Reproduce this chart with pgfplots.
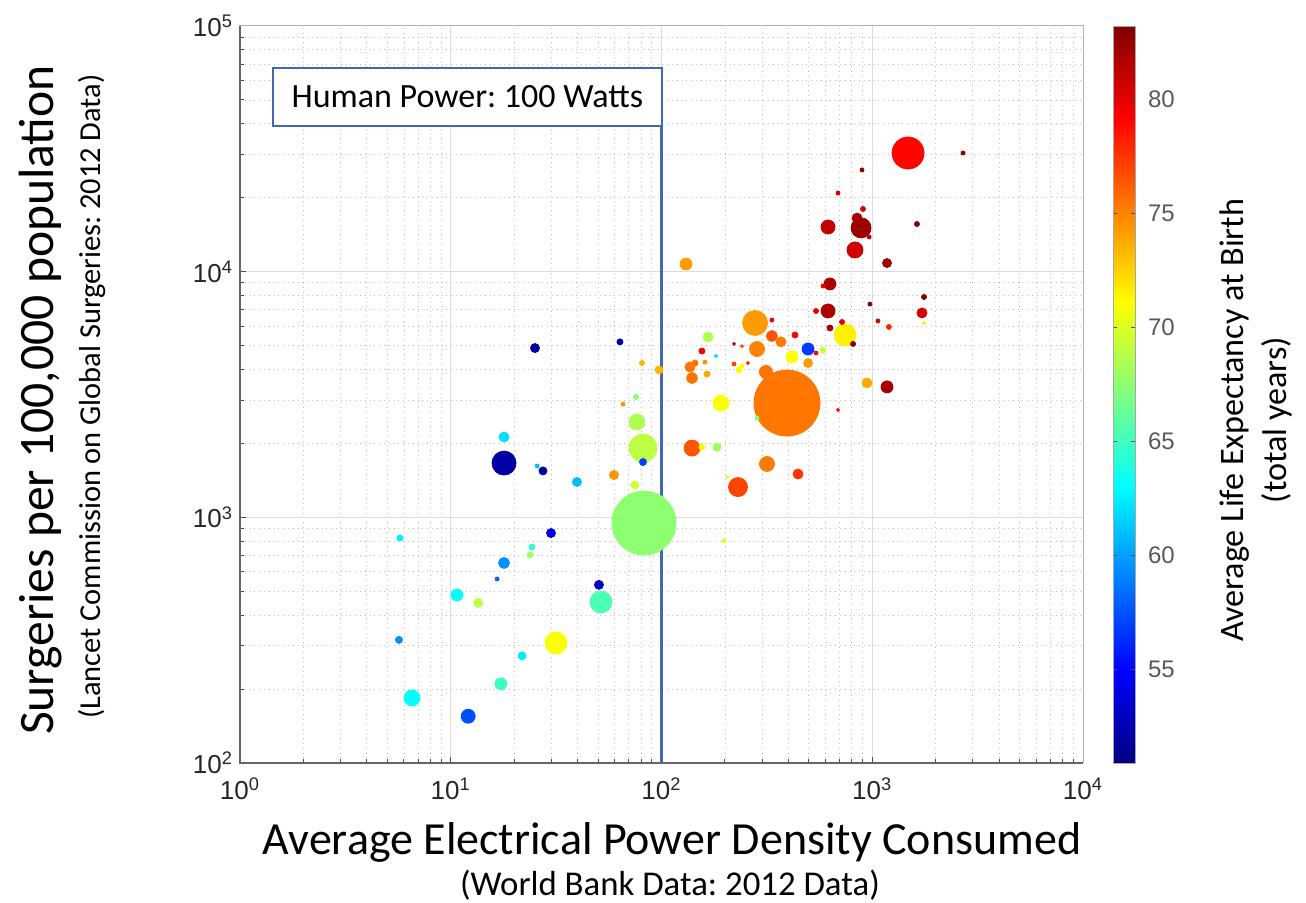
\documentclass[border=0pt]{standalone}
\usepackage{pgfplots}
\pgfplotsset{compat=1.18}
\usepackage{fontspec}
\setmainfont{Carlito}
\newfontfamily\helv{Liberation Sans}
\definecolor{hpblue}{RGB}{65,105,175}
\definecolor{tickgray}{RGB}{38,38,38}
\pgfplotsset{colorbar shift/.style={xshift=15pt}}
\frenchspacing
\begin{document}
\begin{tikzpicture}
\begin{axis}[
  name=ax,
  scale only axis,
  clip=false,
  width=421.5pt, height=368.5pt,
  xmode=log, ymode=log,
  xmin=1, xmax=10000, ymin=100, ymax=100000,
  xtick={1,10,100,1000,10000},
  xticklabels={10\textsuperscript{0},10\textsuperscript{1},10\textsuperscript{2},10\textsuperscript{3},10\textsuperscript{4}},
  ytick={100,1000,10000,100000},
  yticklabels={10\textsuperscript{2},10\textsuperscript{3},10\textsuperscript{4},10\textsuperscript{5}},
  minor xtick={2,3,4,5,6,7,8,9,20,30,40,50,60,70,80,90,200,300,400,500,600,700,800,900,2000,3000,4000,5000,6000,7000,8000,9000},
  minor ytick={200,300,400,500,600,700,800,900,2000,3000,4000,5000,6000,7000,8000,9000,20000,30000,40000,50000,60000,70000,80000,90000},
  tick label style={font=\helv\fontsize{13}{15}\selectfont, text=tickgray},
  xticklabel style={yshift=-4pt},
  grid=both,
  major grid style={draw=black!14, line width=0.5pt},
  minor grid style={draw=black!25, dotted, line width=0.4pt},
  axis line style={draw=black!30, line width=0.5pt},
  tick style={draw=black!70, line width=0.5pt},
  major tick length=3pt, minor tick length=2pt,
  tick pos=left,
  tick align=inside,
  colormap/jet,
  point meta min=50.9, point meta max=83.2,
  colorbar,
  colorbar style={
    at={(parent axis.north east)}, anchor=north west,
    width=11pt,
    ytick={55,60,65,70,75,80},
    yticklabels={55,60,65,70,75,80},
    yticklabel style={font=\helv\fontsize{12}{14}\selectfont, text=black!65, xshift=3pt},
    major tick length=2pt,
    axis line style={draw=black!35},
  },
]
\addplot[scatter, only marks, mark=*, point meta=explicit,
  scatter/use mapped color={draw=mapped color, fill=mapped color},
  visualization depends on={\thisrow{r} \as \rr},
  scatter/@pre marker code/.append style={/tikz/mark size=\rr/2}]
  table[x=x, y=y, meta=c] {
x y c r
394 2918 75.4 33
82.6 948 67.5 32
1479 30410 79 16
81.7 1914 69 14
278 6180 74.3 12.5
17.9 1663 52 12
51.6 452 65.4 11
31.6 308 71 11
743 5521 71.5 11
885 15070 82.3 10
230.7 1328 77 9.5
76.5 2443 68.5 8
6.55 184 63 8
828 12250 80.7 8
191.5 2918 71 8
139.6 1914 76.5 8
284 4843 75 7.5
316.7 1649 75.3 7.5
617 15200 81 7
617 6918 81.8 7
12.1 155 57.4 7
313 3908 75.5 6.5
130.7 10740 74.2 6
10.7 483 63 6
17.3 210 65 6
630 8914 81.8 6
496 4843 56.8 6
1175 3396 82 6
416 4498 71 6
17.9 652 59.5 5.5
334 5470 76.5 5.5
139.6 3690 75.5 5.5
17.9 2123 62 5
847 16520 82 5
1722 6792 80.5 5
369 5177 75.3 5
166.2 5420 68.5 5
136.5 4093 75.5 5
944 3524 73.8 5
444.5 1500 77.5 5
25.1 4887 52 4.5
39.7 1393 61 4.5
59.5 1486 74.5 4.5
29.9 863 54 4.5
50.5 531 53 4.5
13.5 448 69 4.5
1175 10840 82 4.5
496 4246 74.3 4.5
97.3 3981 73.5 4
27.4 1545 51.5 4
74.8 1355 69.5 4
21.8 273 62.5 4
183.3 1931 68 4
81.7 1679 57 3.5
5.68 317 59.5 3.5
63.5 5177 52 3
5.74 824 62.5 3
24.3 757 64.5 3
23.8 703 68 3
630 5900 82 3
430 5521 79 3
584 4798 69.5 3
155.6 4753 79.5 3
144.2 4246 75.5 3
164.4 3829 73.8 3
233.2 3981 71 3
155.6 1931 71 3
80.8 4246 73.5 2.5
75.7 3090 67.5 2.5
904 17990 80.5 2.5
1630 15630 83 2.5
1761 7889 83 2.5
541 6918 80 2.5
719 6240 80 2.5
1200 5957 78 2.5
811 5080 83 2.5
65.7 2891 74.5 2
25.7 1618 61 2
16.6 561 58 2
2697 30410 83 2
894 25940 83 2
688 20890 80.5 2
966 13840 81 2
584 8746 80 2
975 7380 83 2
1064 6300 80.5 2
334 6350 79.5 2
541 4665 79 2
160.8 4285 74.5 2
220.8 4206 77 2
241 4130 71 2
198 802 70 2
284 2535 67 2
1761 6180 71.5 1.5
181.4 4537 62 1.5
220.8 5080 81 1.5
241 4977 77 1.5
257 4246 78 1.5
688 2736 79 1.5
204.6 1459 70 1.5
};
\draw[black!60, line width=0.6pt] (rel axis cs:0,1) -- (rel axis cs:0,0) -- (rel axis cs:1,0);
\draw[hpblue, line width=1.5pt] (axis cs:100,67430) -- (axis cs:100,100);
\draw[hpblue, line width=1pt, fill=white] (axis cs:1.434,39170) rectangle (axis cs:100,67430);
\node[font=\fontsize{17}{20}\selectfont] at (axis cs:12,51400) {Human Power: 100 Watts};
\node[rotate=90, font=\fontsize{24.8}{28}\selectfont] at (axis description cs:-0.237,0.4925) {Surgeries per 100,000 population};
\node[rotate=90, font=\fontsize{15.2}{18}\selectfont] at (axis description cs:-0.176,0.497) {(Lancet Commission on Global Surgeries: 2012 Data)};
\node[font=\fontsize{23}{27}\selectfont] at (axis description cs:0.5125,-0.1085) {Average Electrical Power Density Consumed};
\node[font=\fontsize{17.4}{20}\selectfont] at (axis description cs:0.510,-0.1655) {(World Bank Data: 2012 Data)};
\node[rotate=90, font=\fontsize{17.1}{20}\selectfont] at (axis description cs:1.180,0.465) {Average Life Expectancy at Birth};
\node[rotate=90, font=\fontsize{17.1}{20}\selectfont] at (axis description cs:1.230,0.465) {(total years)};
\end{axis}
\pgfresetboundingbox
\path[use as bounding box] ([shift={(-120pt,-70pt)}]ax.south west) rectangle ([shift={(533pt,381.5pt)}]ax.south west);
\end{tikzpicture}
\end{document}
